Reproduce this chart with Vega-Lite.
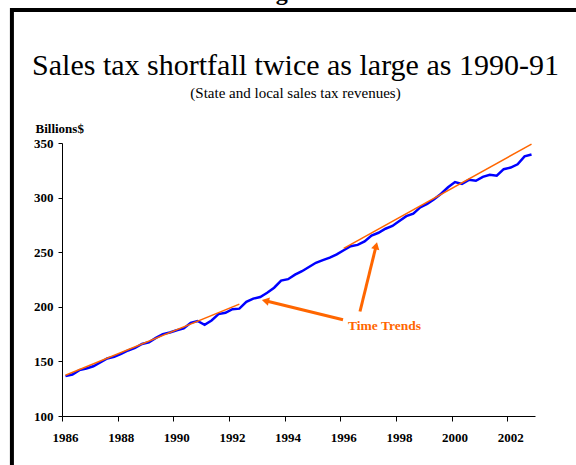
{
  "$schema": "https://vega.github.io/schema/vega-lite/v6.json",
  "autosize": "none",
  "width": 473,
  "height": 273,
  "padding": {"left": 62, "top": 143, "right": 41, "bottom": 49},
  "background": "#ffffff",
  "title": {
    "text": "Sales tax shortfall twice as large as 1990-91",
    "subtitle": "(State and local sales tax revenues)",
    "anchor": "middle",
    "frame": "group",
    "offset": -120,
    "dx": -3,
    "font": "Liberation Serif",
    "fontSize": 30,
    "fontWeight": "normal",
    "color": "#000000",
    "subtitleFont": "Liberation Serif",
    "subtitleFontSize": 15,
    "subtitleColor": "#000000",
    "subtitlePadding": 5
  },
  "datasets": {
    "actual": [
      {"t": 1986.125, "v": 136.5}, {"t": 1986.375, "v": 138}, {"t": 1986.625, "v": 142}, {"t": 1986.875, "v": 143.5},
      {"t": 1987.125, "v": 145.5}, {"t": 1987.375, "v": 149}, {"t": 1987.625, "v": 152.7}, {"t": 1987.875, "v": 154.3},
      {"t": 1988.125, "v": 157}, {"t": 1988.375, "v": 160}, {"t": 1988.625, "v": 162.3}, {"t": 1988.875, "v": 166},
      {"t": 1989.125, "v": 167.5}, {"t": 1989.375, "v": 171.5}, {"t": 1989.625, "v": 175}, {"t": 1989.875, "v": 176.5},
      {"t": 1990.125, "v": 178.5}, {"t": 1990.375, "v": 180.2}, {"t": 1990.625, "v": 185.3}, {"t": 1990.875, "v": 187},
      {"t": 1991.125, "v": 183.5}, {"t": 1991.375, "v": 187.5}, {"t": 1991.625, "v": 193.3}, {"t": 1991.875, "v": 194.5},
      {"t": 1992.125, "v": 197.8}, {"t": 1992.375, "v": 198.3}, {"t": 1992.625, "v": 204.5}, {"t": 1992.875, "v": 207.5},
      {"t": 1993.125, "v": 209}, {"t": 1993.375, "v": 212.8}, {"t": 1993.625, "v": 217.5}, {"t": 1993.875, "v": 224},
      {"t": 1994.125, "v": 225.3}, {"t": 1994.375, "v": 229.5}, {"t": 1994.625, "v": 232.6}, {"t": 1994.875, "v": 236.5},
      {"t": 1995.125, "v": 240.3}, {"t": 1995.375, "v": 242.7}, {"t": 1995.625, "v": 245}, {"t": 1995.875, "v": 248},
      {"t": 1996.125, "v": 251.8}, {"t": 1996.375, "v": 255.5}, {"t": 1996.625, "v": 256.7}, {"t": 1996.875, "v": 259.8},
      {"t": 1997.125, "v": 265.3}, {"t": 1997.375, "v": 267.8}, {"t": 1997.625, "v": 271.5}, {"t": 1997.875, "v": 274},
      {"t": 1998.125, "v": 278.5}, {"t": 1998.375, "v": 283}, {"t": 1998.625, "v": 285.3}, {"t": 1998.875, "v": 291},
      {"t": 1999.125, "v": 294.3}, {"t": 1999.375, "v": 298.5}, {"t": 1999.625, "v": 303.5}, {"t": 1999.875, "v": 309.5},
      {"t": 2000.125, "v": 314.2}, {"t": 2000.375, "v": 312.6}, {"t": 2000.625, "v": 316.3}, {"t": 2000.875, "v": 315.4},
      {"t": 2001.125, "v": 319}, {"t": 2001.375, "v": 320.9}, {"t": 2001.625, "v": 320}, {"t": 2001.875, "v": 326},
      {"t": 2002.125, "v": 327.5}, {"t": 2002.375, "v": 330.5}, {"t": 2002.625, "v": 337.8}, {"t": 2002.875, "v": 339.5}
    ],
    "trend": [
      {"seg": "A", "t": 1986.125, "v": 137.3}, {"seg": "A", "t": 1992.375, "v": 202.5},
      {"seg": "B", "t": 1996.125, "v": 253.5}, {"seg": "B", "t": 2002.875, "v": 349}
    ],
    "arrows": [
      {"t": 1996.1, "v": 188.1, "t2": 1993.31, "v2": 205.5},
      {"t": 1996.71, "v": 195.7, "t2": 1997.29, "v2": 255.9}
    ]
  },
  "layer": [
    {
      "data": {"values": [{}]},
      "mark": {"type": "rect", "filled": false, "color": "#000000", "strokeWidth": 4, "clip": false},
      "encoding": {
        "x": {"datum": 1984.2, "type": "quantitative", "scale": {"domain": [1986, 2003], "nice": false, "zero": false}, "title": null},
        "x2": {"datum": 2012},
        "y": {"datum": 471.8, "type": "quantitative", "scale": {"domain": [100, 350], "nice": false, "zero": false}, "title": "Billions$"},
        "y2": {"datum": 20}
      }
    },
    {
      "data": {"values": [{"t": 1994.45, "v": 481.4, "label": "Figure 3"}]},
      "mark": {"type": "text", "font": "Liberation Serif", "fontWeight": "bold", "fontSize": 24, "color": "#000000", "align": "center", "baseline": "alphabetic", "clip": false},
      "encoding": {
        "x": {"field": "t", "type": "quantitative", "scale": {"domain": [1986, 2003], "nice": false, "zero": false}, "title": null},
        "y": {"field": "v", "type": "quantitative", "scale": {"domain": [100, 350], "nice": false, "zero": false}, "title": "Billions$"},
        "text": {"field": "label"}
      }
    },
    {
      "data": {"name": "actual"},
      "mark": {"type": "line", "color": "#0000FF", "strokeWidth": 2.5},
      "encoding": {
        "x": {"field": "t", "type": "quantitative", "scale": {"domain": [1986, 2003], "nice": false, "zero": false}, "title": null},
        "y": {"field": "v", "type": "quantitative", "scale": {"domain": [100, 350], "nice": false, "zero": false}, "title": "Billions$"}
      }
    },
    {
      "data": {"name": "trend"},
      "mark": {"type": "line", "color": "#FF6600", "strokeWidth": 1.5},
      "encoding": {
        "x": {"field": "t", "type": "quantitative", "scale": {"domain": [1986, 2003], "nice": false, "zero": false}, "title": null},
        "y": {"field": "v", "type": "quantitative", "scale": {"domain": [100, 350], "nice": false, "zero": false}, "title": "Billions$"},
        "detail": {"field": "seg"}
      }
    },
    {
      "data": {"name": "arrows"},
      "mark": {"type": "rule", "color": "#FF6600", "strokeWidth": 3},
      "encoding": {
        "x": {"field": "t", "type": "quantitative", "scale": {"domain": [1986, 2003], "nice": false, "zero": false}, "title": null},
        "y": {"field": "v", "type": "quantitative", "scale": {"domain": [100, 350], "nice": false, "zero": false}, "title": "Billions$"},
        "x2": {"field": "t2"},
        "y2": {"field": "v2"}
      }
    },
    {
      "data": {"values": [{"t": 1993.31, "v": 205.5}]},
      "mark": {"type": "point", "shape": "triangle-up", "filled": true, "color": "#FF6600", "size": 70, "angle": 284, "opacity": 1},
      "encoding": {
        "x": {"field": "t", "type": "quantitative", "scale": {"domain": [1986, 2003], "nice": false, "zero": false}, "title": null},
        "y": {"field": "v", "type": "quantitative", "scale": {"domain": [100, 350], "nice": false, "zero": false}, "title": "Billions$"}
      }
    },
    {
      "data": {"values": [{"t": 1997.29, "v": 255.9}]},
      "mark": {"type": "point", "shape": "triangle-up", "filled": true, "color": "#FF6600", "size": 70, "angle": 14, "opacity": 1},
      "encoding": {
        "x": {"field": "t", "type": "quantitative", "scale": {"domain": [1986, 2003], "nice": false, "zero": false}, "title": null},
        "y": {"field": "v", "type": "quantitative", "scale": {"domain": [100, 350], "nice": false, "zero": false}, "title": "Billions$"}
      }
    },
    {
      "data": {"values": [{"t": 1997.59, "v": 179, "label": "Time Trends"}]},
      "mark": {"type": "text", "font": "Liberation Serif", "fontWeight": "bold", "fontSize": 13.5, "color": "#FF6600", "align": "center", "baseline": "alphabetic"},
      "encoding": {
        "x": {"field": "t", "type": "quantitative", "scale": {"domain": [1986, 2003], "nice": false, "zero": false}, "title": null},
        "y": {"field": "v", "type": "quantitative", "scale": {"domain": [100, 350], "nice": false, "zero": false}, "title": "Billions$"},
        "text": {"field": "label"}
      }
    }
  ],
  "config": {
    "view": {"stroke": null},
    "axis": {
      "grid": false,
      "domainColor": "#000000",
      "domainWidth": 1,
      "tickColor": "#000000",
      "tickWidth": 1,
      "labelColor": "#000000",
      "labelFont": "Liberation Serif",
      "labelFontWeight": "bold",
      "labelFontSize": 13
    },
    "axisX": {
      "values": [1986, 1987, 1988, 1989, 1990, 1991, 1992, 1993, 1994, 1995, 1996, 1997, 1998, 1999, 2000, 2001, 2002, 2003],
      "labelExpr": "datum.value % 2 === 0 && datum.value < 2003 ? '' + datum.value : ''",
      "tickSize": 5,
      "labelPadding": 10,
      "labelOffset": 3,
      "labelFlush": false,
      "labelOverlap": false
    },
    "axisY": {
      "values": [100, 150, 200, 250, 300, 350],
      "tickSize": 4,
      "labelPadding": 5,
      "titleAngle": 0,
      "titleX": -27,
      "titleY": -11,
      "titleAlign": "left",
      "titleBaseline": "alphabetic",
      "titleFont": "Liberation Serif",
      "titleFontSize": 13,
      "titleFontWeight": "bold",
      "titleColor": "#000000"
    }
  }
}
